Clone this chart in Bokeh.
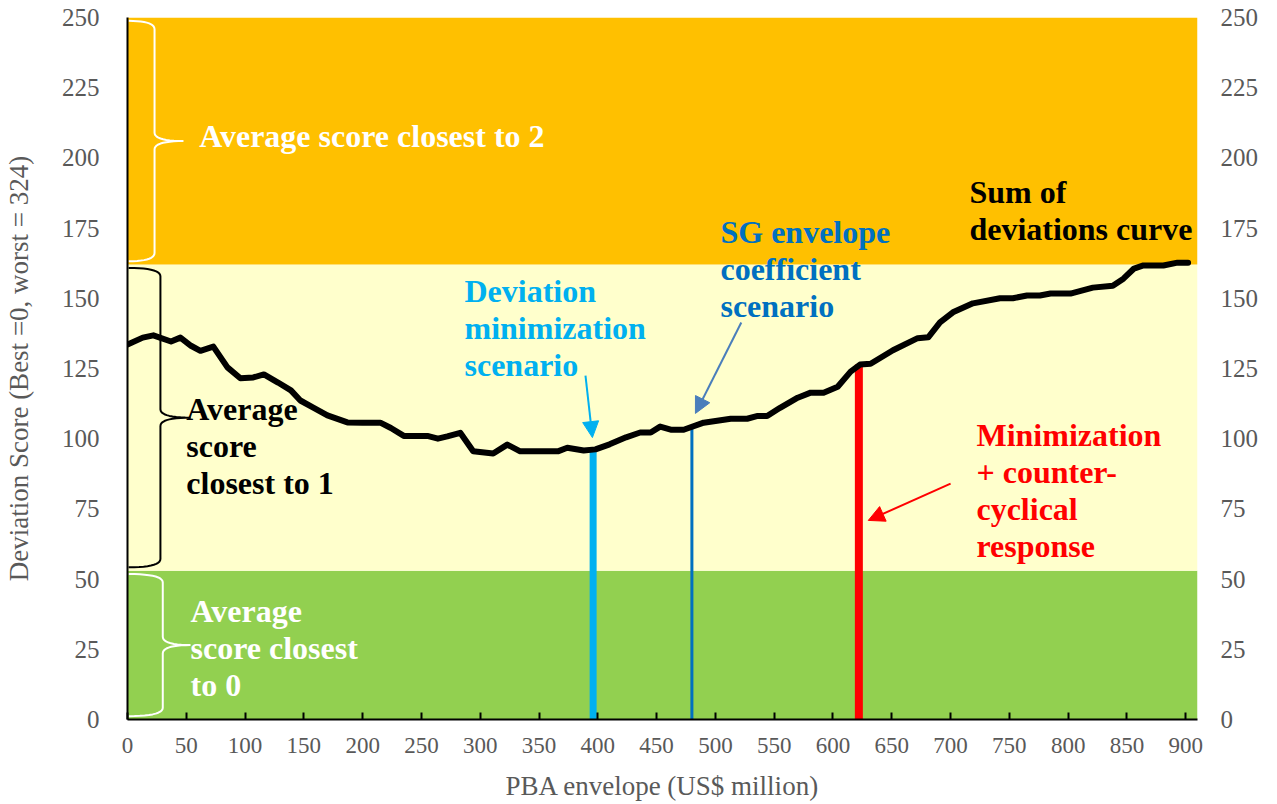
import numpy as np
from bokeh.plotting import figure
from bokeh.models import Range1d, LinearAxis, FixedTicker, Arrow, NormalHead
from bokeh.embed import file_html
from bokeh.resources import INLINE
from bokeh.core.properties import value

# ---------------- data ----------------
envelope = [0, 13, 22, 37, 45, 54, 62, 73, 85, 96, 107, 116, 128, 139, 147, 158, 170, 187,
            200, 215, 224, 235, 255, 264, 272, 283, 294, 311, 323, 334, 366, 374, 388, 398,
            410, 424, 436, 445, 453, 462, 473, 490, 513, 527, 536, 544, 555, 570, 581, 592,
            604, 615, 623, 632, 651, 672, 681, 691, 702, 719, 742, 753, 765, 776, 785, 802,
            821, 838, 847, 856, 864, 881, 893, 902]
deviation = [133.5, 136.0, 136.8, 134.6, 136.0, 133.1, 131.3, 132.8, 125.4, 121.5, 121.8, 122.9,
             120.0, 117.2, 113.6, 111.1, 108.3, 105.8, 105.7, 105.7, 103.8, 101.0, 101.0, 100.0,
             100.8, 102.1, 95.5, 94.7, 97.9, 95.5, 95.5, 96.8, 95.8, 96.2, 98.0, 100.5, 102.2,
             102.2, 104.3, 103.2, 103.2, 105.7, 107.1, 107.1, 108.1, 108.1, 111.0, 114.6, 116.4,
             116.4, 118.5, 123.9, 126.4, 126.7, 131.5, 135.8, 136.1, 141.4, 145.0, 148.2, 150.0,
             150.0, 151.0, 151.0, 151.7, 151.7, 153.8, 154.5, 157.0, 160.6, 161.7, 161.7, 162.7,
             162.7]

zone_bottom = [0, 53, 162]
zone_top = [53, 162, 250]
zone_colors = ["#92D050", "#FFFFCC", "#FFC000"]
brace_colors = ["white", "black", "white"]

scenario_x = [396, 480, 622]
scenario_top = [95.8, 103.6, 126.4]
scenario_colors = ["#00B0F0", "#0070C0", "#FF0000"]
scenario_widths = [7, 3, 8]

x_ticks = [0, 50, 100, 150, 200, 250, 300, 350, 400, 450, 500, 550, 600, 650, 700, 750, 800, 850, 900]
y_ticks = [0, 25, 50, 75, 100, 125, 150, 175, 200, 225, 250]

X_MIN, X_MAX = 0, 910
Y_MIN, Y_MAX = 0, 250

SERIF = "Liberation Serif, Times New Roman, DejaVu Serif, serif"
GRAY = "#595959"

p = figure(width=1268, height=804, x_range=Range1d(X_MIN, X_MAX), y_range=Range1d(Y_MIN, Y_MAX),
           output_backend="svg", toolbar_location=None,
           min_border_left=127, min_border_right=71, min_border_top=17, min_border_bottom=85)
p.outline_line_color = None
p.xgrid.visible = False
p.ygrid.visible = False

# zones
p.quad(left=X_MIN, right=X_MAX, bottom=zone_bottom, top=zone_top,
       fill_color=zone_colors, line_color=None)

# scenario vertical lines
p.segment(x0=scenario_x, y0=[Y_MIN] * len(scenario_x), x1=scenario_x, y1=scenario_top,
          line_color=scenario_colors, line_width=scenario_widths, line_cap="butt")

# curve
p.line(envelope, deviation, line_color="black", line_width=6, line_join="round", line_cap="round")


# braces (built from zone bounds)
def qbez(p0, c, p1, n=12):
    t = np.linspace(0, 1, n)
    x = (1 - t) ** 2 * p0[0] + 2 * (1 - t) * t * c[0] + t ** 2 * p1[0]
    y = (1 - t) ** 2 * p0[1] + 2 * (1 - t) * t * c[1] + t ** 2 * p1[1]
    return list(x), list(y)


def brace(bottom, top, xv, tip, color):
    x0 = 0.9
    inset = 1.2
    yt, yb = top - inset, bottom + inset
    ym = (yt + yb) / 2
    r = 3.0
    xs, ys = [], []
    for seg in [
        qbez((x0, yt), (xv, yt), (xv, yt - r)),
        qbez((xv, ym + r), (xv, ym), (tip, ym)),
        qbez((tip, ym), (xv, ym), (xv, ym - r)),
        qbez((xv, yb + r), (xv, yb), (x0, yb)),
    ]:
        xs += seg[0]
        ys += seg[1]
    p.line(xs, ys, line_color=color, line_width=2)


brace_geom = [(30, 53.6), (28, 53.6), (23, 47.6)]
for b, t, c, (xv, tip) in zip(zone_bottom, zone_top, brace_colors, brace_geom):
    brace(b, t, xv, tip, c)

# texts
def label(x, y, txt, color):
    p.text(x=[x], y=[y], text=[txt], text_color=color, text_font=value(SERIF),
           text_font_style="bold", text_font_size=value("32px"), text_align="left",
           text_baseline="top", text_line_height=1.03)


label(61, 214.3, "Average score closest to 2", "white")
label(50, 117.1, "Average\nscore\nclosest to 1", "black")
label(53.6, 45.2, "Average\nscore closest\nto 0", "white")
label(286.6, 159.1, "Deviation\nminimization\nscenario", "#00B0F0")
label(504.3, 180.1, "SG envelope\ncoefficient\nscenario", "#0070C0")
label(716, 194.4, "Sum of\ndeviations curve", "black")
label(722, 107.8, "Minimization\n+ counter-\ncyclical\nresponse", "#FF0000")

# arrows
for (xs, ys, xe, ye, col) in [(389.5, 122.5, 395.4, 100.4, "#00B0F0"),
                              (522, 141.4, 483, 109, "#4A7EBB"),
                              (700, 84, 630, 70.9, "#FF0000")]:
    p.add_layout(Arrow(x_start=xs, y_start=ys, x_end=xe, y_end=ye, line_color=col, line_width=2,
                       end=NormalHead(size=16, fill_color=col, line_color=col)))

# axes
xa = p.xaxis[0]
xa.ticker = FixedTicker(ticks=x_ticks)
xa.major_tick_in = 7
xa.major_tick_out = 0
xa.minor_tick_line_color = None
xa.axis_line_width = 2
xa.axis_line_color = "black"
xa.major_tick_line_width = 2
xa.major_label_text_font = SERIF
xa.major_label_text_font_size = "23px"
xa.major_label_text_color = GRAY
xa.major_label_standoff = 18
xa.axis_label = "PBA envelope (US$ million)"
xa.axis_label_text_font = SERIF
xa.axis_label_text_font_size = "27px"
xa.axis_label_text_font_style = "normal"
xa.axis_label_text_color = GRAY
xa.axis_label_standoff = 15

ya = p.yaxis[0]
ya.ticker = FixedTicker(ticks=y_ticks)
ya.major_tick_in = 0
ya.major_tick_out = 0
ya.minor_tick_line_color = None
ya.axis_line_width = 2
ya.axis_line_color = "black"
ya.major_label_text_font = SERIF
ya.major_label_text_font_size = "25px"
ya.major_label_text_color = GRAY
ya.major_label_standoff = 28
ya.axis_label = "Deviation Score (Best =0, worst = 324)"
ya.axis_label_text_font = SERIF
ya.axis_label_text_font_size = "27px"
ya.axis_label_text_font_style = "normal"
ya.axis_label_text_color = GRAY
ya.axis_label_standoff = 25

ra = LinearAxis(ticker=FixedTicker(ticks=y_ticks))
ra.axis_line_color = None
ra.major_tick_line_color = None
ra.minor_tick_line_color = None
ra.major_label_text_font = SERIF
ra.major_label_text_font_size = "25px"
ra.major_label_text_color = GRAY
ra.major_label_standoff = 17
p.add_layout(ra, "right")

open("out.html", "w").write(file_html(p, INLINE))
